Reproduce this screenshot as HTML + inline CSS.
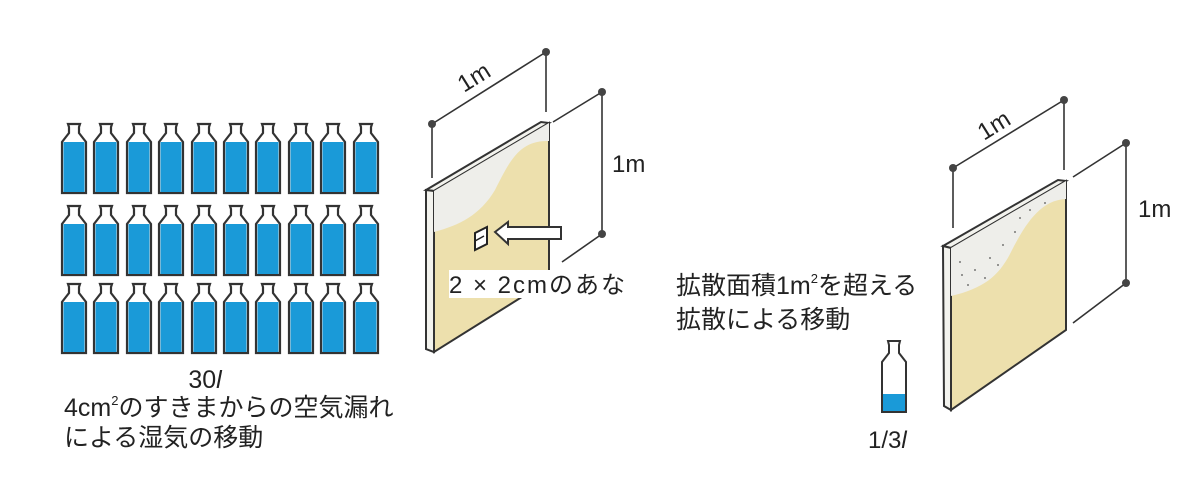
<!DOCTYPE html>
<html><head><meta charset="utf-8"><style>
html,body{margin:0;padding:0;background:#fff;}
svg{display:block}
text{font-family:"Liberation Sans","Noto Sans CJK JP",sans-serif;fill:#222}
</style></head><body>
<svg width="1198" height="487" viewBox="0 0 1198 487" xmlns="http://www.w3.org/2000/svg">
<defs>
<g id="b">
<path d="M0,53 L0,2 L7,-7 L7,-13 L6,-16 L18,-16 L17,-13 L17,-7 L24,2 L24,53 Z" fill="#fff" stroke="#333" stroke-width="2.2"/>
<rect x="1.5" y="2" width="21" height="50" fill="#1a9ad8"/>
</g>
</defs>
<g>
<use href="#b" x="62" y="140"/><use href="#b" x="94" y="140"/><use href="#b" x="127" y="140"/><use href="#b" x="159" y="140"/><use href="#b" x="192" y="140"/><use href="#b" x="224" y="140"/><use href="#b" x="256" y="140"/><use href="#b" x="289" y="140"/><use href="#b" x="321" y="140"/><use href="#b" x="354" y="140"/>
<use href="#b" x="62" y="222"/><use href="#b" x="94" y="222"/><use href="#b" x="127" y="222"/><use href="#b" x="159" y="222"/><use href="#b" x="192" y="222"/><use href="#b" x="224" y="222"/><use href="#b" x="256" y="222"/><use href="#b" x="289" y="222"/><use href="#b" x="321" y="222"/><use href="#b" x="354" y="222"/>
<use href="#b" x="62" y="300"/><use href="#b" x="94" y="300"/><use href="#b" x="127" y="300"/><use href="#b" x="159" y="300"/><use href="#b" x="192" y="300"/><use href="#b" x="224" y="300"/><use href="#b" x="256" y="300"/><use href="#b" x="289" y="300"/><use href="#b" x="321" y="300"/><use href="#b" x="354" y="300"/>
</g>
<text x="205" y="388" font-size="25" text-anchor="middle">30<tspan font-style="italic">l</tspan></text>
<text x="64" y="416" font-size="25">4cm<tspan font-size="13" dy="-11">2</tspan><tspan dy="11">のすきまからの空気漏れ</tspan></text>
<text x="64" y="446" font-size="25">による湿気の移動</text>

<!-- panel 1 -->
<g stroke="#333" stroke-width="1.6" fill="none">
<line x1="432" y1="124" x2="546" y2="52"/>
<line x1="432" y1="124" x2="432" y2="178"/>
<line x1="546" y1="52" x2="546" y2="112"/>
<line x1="553" y1="122" x2="602" y2="92"/>
<line x1="602" y1="92" x2="602" y2="234"/>
<line x1="562" y1="262" x2="602" y2="234"/>
</g>
<g fill="#444"><circle cx="432" cy="124" r="4"/><circle cx="546" cy="52" r="4"/><circle cx="602" cy="92" r="4"/><circle cx="602" cy="234" r="4"/></g>
<polygon points="426,190 541,122 549,123 434,191" fill="#f3f3ee" stroke="#333" stroke-width="2"/>
<polygon points="426,190 434,191 434,352 426,349" fill="#f3f3ee" stroke="#333" stroke-width="2"/>
<polygon points="434,191 549,123 549,280 434,352" fill="#ede0ad" stroke="#333" stroke-width="2"/>
<path d="M434,191 L549,123 L549,141 C520,140 510,160 495,190 C480,215 460,225 434,232 Z" fill="#eeeeea"/>
<polygon points="475,233 487,227 487,244 475,250" fill="#fff" stroke="#222" stroke-width="2"/>
<line x1="475" y1="241" x2="484" y2="236" stroke="#222" stroke-width="1.5"/>
<path d="M495,232 L508,222 L508,227 L561,227 L561,239 L508,239 L508,244 Z" fill="#fff" stroke="#333" stroke-width="2"/>
<rect x="449" y="270" width="178" height="28" fill="#fff"/>
<text x="449" y="293" font-size="24" textLength="176" lengthAdjust="spacing">2 × 2cmのあな</text>
<text x="612" y="172" font-size="24">1m</text>
<text x="0" y="0" font-size="24" transform="translate(464,93) rotate(-32)">1m</text>

<!-- panel 2 -->
<text x="676" y="294" font-size="25">拡散面積1m<tspan font-size="13" dy="-11">2</tspan><tspan dy="11">を超える</tspan></text>
<text x="676" y="328" font-size="25">拡散による移動</text>
<g stroke="#333" stroke-width="1.6" fill="none">
<line x1="953" y1="168" x2="1064" y2="100"/>
<line x1="953" y1="168" x2="953" y2="228"/>
<line x1="1064" y1="100" x2="1064" y2="170"/>
<line x1="1073" y1="177" x2="1126" y2="143"/>
<line x1="1126" y1="143" x2="1126" y2="283"/>
<line x1="1073" y1="323" x2="1126" y2="283"/>
</g>
<g fill="#444"><circle cx="953" cy="168" r="4"/><circle cx="1064" cy="100" r="4"/><circle cx="1126" cy="143" r="4"/><circle cx="1126" cy="283" r="4"/></g>
<polygon points="943,246 1058,180 1066,181 951,248" fill="#f3f3ee" stroke="#333" stroke-width="2"/>
<polygon points="943,246 951,248 951,410 944,406" fill="#f3f3ee" stroke="#333" stroke-width="2"/>
<polygon points="951,248 1066,181 1066,330 951,410" fill="#ede0ad" stroke="#333" stroke-width="2"/>
<path d="M951,248 L1066,181 L1066,199 C1040,200 1025,225 1012,250 C1000,275 985,288 951,296 Z" fill="#eeeeea"/>
<g fill="#555"><circle cx="960" cy="262" r="0.9"/><circle cx="975" cy="270" r="0.9"/><circle cx="990" cy="258" r="0.9"/><circle cx="1003" cy="245" r="0.9"/><circle cx="1015" cy="232" r="0.9"/><circle cx="1030" cy="210" r="0.9"/><circle cx="968" cy="285" r="0.9"/><circle cx="985" cy="278" r="0.9"/><circle cx="1045" cy="203" r="0.9"/><circle cx="998" cy="265" r="0.9"/><circle cx="962" cy="275" r="0.9"/><circle cx="1020" cy="218" r="0.9"/></g>
<text x="1138" y="217" font-size="24">1m</text>
<text x="0" y="0" font-size="24" transform="translate(984,141) rotate(-32)">1m</text>
<path d="M882,412 L882,362 L889,353 L889,345 L888,341 L900,341 L899,345 L899,353 L906,362 L906,412 Z" fill="#fff" stroke="#333" stroke-width="2"/>
<rect x="883" y="394" width="22" height="17" fill="#1a9ad8"/>
<text x="868" y="448" font-size="24">1/3<tspan font-style="italic">l</tspan></text>
</svg>
</body></html>
